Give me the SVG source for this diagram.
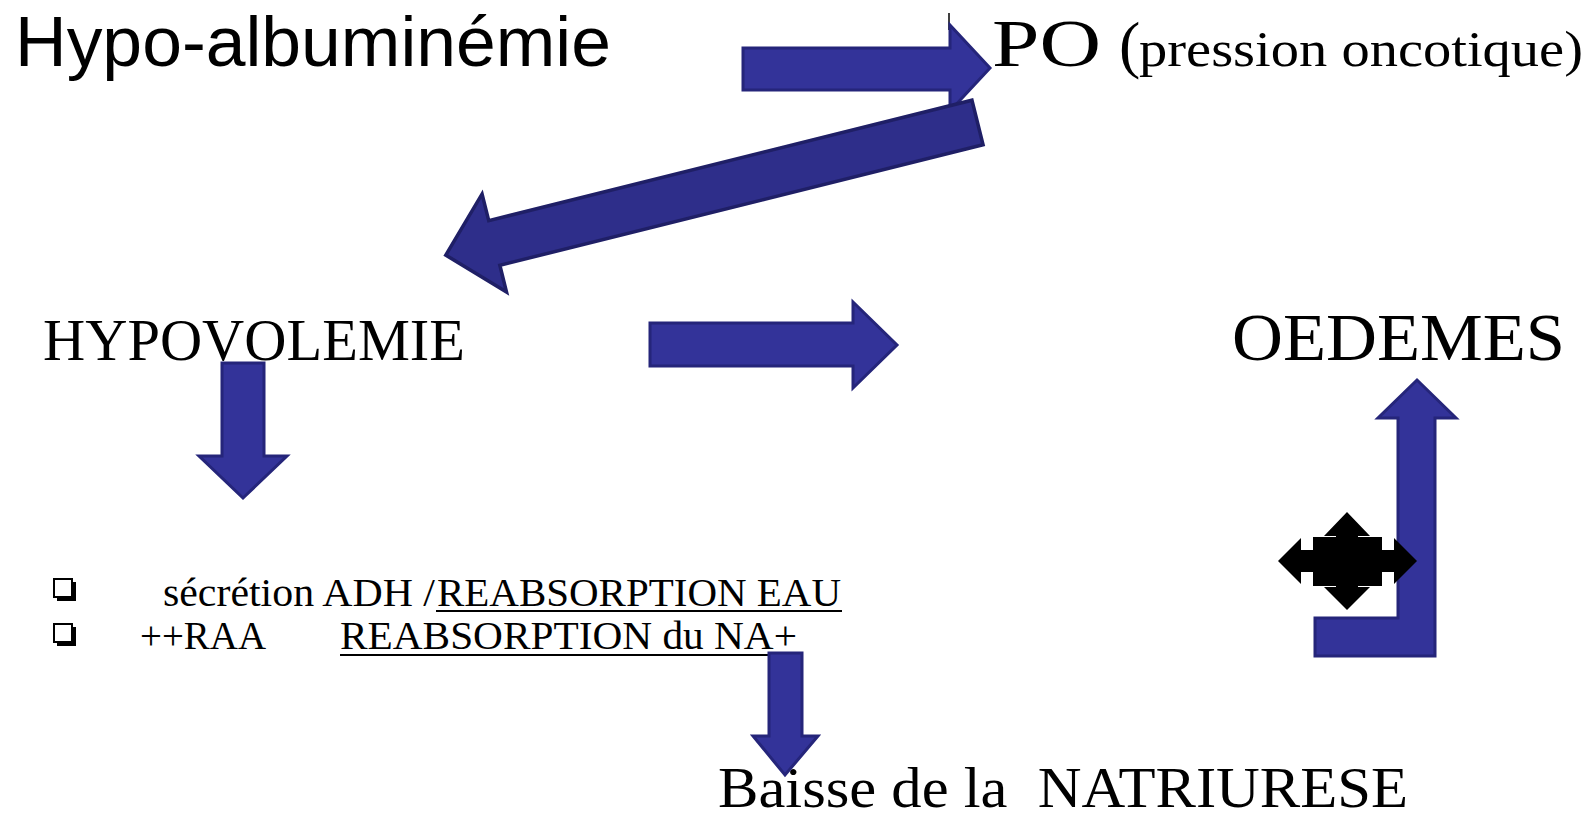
<svg xmlns="http://www.w3.org/2000/svg" width="1591" height="821" viewBox="0 0 1591 821">
<style>
.ser{font-family:"Liberation Serif","Times New Roman",serif;fill:#000}
.sans{font-family:"Liberation Sans",Arial,sans-serif;fill:#000}
.arr{fill:#333399;stroke:#25257a;stroke-width:3;stroke-linejoin:miter}
.arr2{fill:#2e2e8a;stroke:#1f1f66;stroke-width:3.5;stroke-linejoin:miter}
.ul{stroke:#000;stroke-width:2}
.bshadow{fill:#000}
.bbox{fill:#fff;stroke:#000;stroke-width:2}
</style>
<rect width="1591" height="821" fill="#fff"/>

<g id="hypoalb"><text class="sans" x="15" y="66" font-size="71" textLength="596" lengthAdjust="spacingAndGlyphs">Hypo-albuminémie</text></g>

<g id="po">
<line x1="949" y1="13" x2="949" y2="30" stroke="#000" stroke-width="1.5"/>
<text class="ser" x="992" y="66" font-size="67" textLength="109" lengthAdjust="spacingAndGlyphs">PO</text>
<text class="ser" x="1119" y="66" font-size="64">(</text>
<text class="ser" x="1139" y="66" font-size="50" textLength="444" lengthAdjust="spacingAndGlyphs">pression oncotique)</text>
</g>

<g id="hypovolemie"><text class="ser" x="43" y="360" font-size="60" textLength="422" lengthAdjust="spacingAndGlyphs">HYPOVOLEMIE</text></g>

<g id="oedemes"><text class="ser" x="1232" y="360" font-size="68" textLength="333" lengthAdjust="spacingAndGlyphs">OEDEMES</text></g>

<g id="list">
<g id="bullet1">
<rect class="bshadow" x="57" y="582" width="19" height="19"/>
<rect class="bbox" x="54" y="579" width="18" height="18"/>
</g>
<g id="bullet2">
<rect class="bshadow" x="57" y="627" width="19" height="19"/>
<rect class="bbox" x="54" y="624" width="18" height="18"/>
</g>
<text class="ser" x="163" y="606" font-size="40" textLength="272" lengthAdjust="spacingAndGlyphs">sécrétion ADH /</text>
<text class="ser" x="437" y="606" font-size="40" textLength="404" lengthAdjust="spacingAndGlyphs">REABSORPTION EAU</text>
<line class="ul" x1="436" y1="611" x2="842" y2="611"/>
<text class="ser" x="140" y="649" font-size="40" textLength="126" lengthAdjust="spacingAndGlyphs">++RAA</text>
<text class="ser" x="340" y="649" font-size="40" textLength="457" lengthAdjust="spacingAndGlyphs">REABSORPTION du NA+</text>
<line class="ul" x1="340" y1="655" x2="775" y2="655"/>
</g>

<g id="natriurese"><text class="ser" x="718" y="807" font-size="57" textLength="690" lengthAdjust="spacingAndGlyphs" xml:space="preserve">Baisse de la  NATRIURESE</text></g>

<g id="connectors">
<path class="arr" d="M743,48 L950,48 L950,25 L990,68 L950,111 L950,90 L743,90 Z"/>
<path class="arr2" d="M0,-23 L498,-23 L498,-50.5 L548,0 L498,50.5 L498,23 L0,23 Z" transform="translate(977.5,122.5) rotate(166)"/>
<path class="arr" d="M650,323 L853,323 L853,302 L897,345 L853,388 L853,366 L650,366 Z"/>
<path class="arr" d="M222,363 L264,363 L264,456 L287,456 L243,498 L199,456 L222,456 Z"/>
<path class="arr" d="M769,653 L802,653 L802,736 L818,736 L785,775 L753,736 L769,736 Z"/>
<path class="arr" d="M1417,380 L1456,418 L1435,418 L1435,656 L1315,656 L1315,618 L1398,618 L1398,418 L1378,418 Z"/>
<path id="quad" fill="#000" d="M1347,512 L1370,536 L1358,536 L1358,537 L1382,537 L1382,550 L1394,550 L1394,538 L1417,561 L1394,584 L1394,572 L1382,572 L1382,586 L1358,586 L1358,587 L1370,587 L1347,610 L1324,587 L1336,587 L1336,586 L1313,586 L1313,572 L1301,572 L1301,584 L1278,561 L1301,538 L1301,550 L1313,550 L1313,537 L1336,537 L1336,536 L1324,536 Z"/>
</g>
</svg>
